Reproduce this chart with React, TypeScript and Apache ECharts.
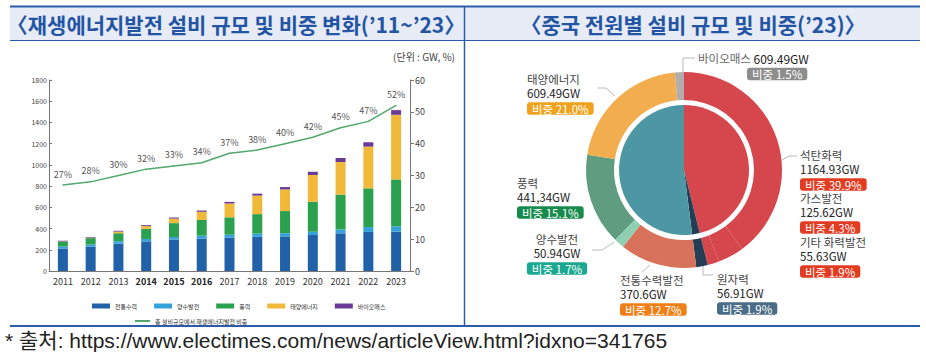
import React, { useEffect, useRef } from 'react';
import * as echarts from 'echarts';

// ---------- Data: left chart ----------
const years = ['2011', '2012', '2013', '2014', '2015', '2016', '2017', '2018', '2019', '2020', '2021', '2022', '2023'];
const boldYears = ['2014', '2015', '2016'];
const hydro = [212, 229, 258, 279, 297, 306, 313, 322, 326, 339, 355, 368, 371];
const pumped = [18, 20, 22, 23, 23, 27, 29, 30, 30, 31, 36, 46, 51];
const wind = [46, 61, 76, 96, 131, 148, 164, 184, 209, 282, 329, 365, 441];
const solar = [3, 3, 15, 25, 43, 77, 130, 175, 204, 253, 307, 393, 609];
const biomass = [5, 6, 8, 9, 10, 12, 15, 18, 22, 30, 38, 41, 44];
const reShare = [27, 28, 30, 32, 33, 34, 37, 38, 40, 42, 45, 47, 52];
const barNames = ['전통수력', '양수발전', '풍력', '태양에너지', '바이오매스'];
const lineName = '총 설비규모에서 재생에너지발전 비중';

// ---------- Data: right chart ----------
const mixNames = ['석탄화력', '가스발전', '기타 화력발전', '원자력', '전통수력발전', '양수발전', '풍력', '태양에너지', '바이오매스'];
const mixCapacity = ['1164.93GW', '125.62GW', '55.63GW', '56.91GW', '370.6GW', '50.94GW', '441,34GW', '609.49GW', '609.49GW'];
const mixShare = [39.9, 4.3, 1.9, 1.9, 12.7, 1.7, 15.1, 21.0, 1.5];
const groupNames = ['화력발전\n비중', '원자력비중', '재생에너지\n발전비중'];
const groupShare = [46.1, 1.9, 52.0];

// ---------- Text ----------
const titleLeft = '〈재생에너지발전 설비 규모 및 비중 변화(’11~’23〉';
const titleRight = '〈중국 전원별 설비 규모 및 비중(’23)〉';
const unitText = '(단위 : GW, %)';
const sourceText = '* 출처: https://www.electimes.com/news/articleView.html?idxno=341765';

// ---------- Styles / layout ----------
const FONT = "'Noto Sans CJK KR', 'Noto Sans', sans-serif";
const barColors = ['#2161a8', '#36a2dc', '#2ba150', '#f0b93a', '#6a3b94'];
const lineColor = '#52a86c';
const sliceColors = ['#d6464d', '#d6464d', '#d6464d', '#253d54', '#d9725b', '#8fcfb1', '#5f9c80', '#f2ae4e', '#b3acac'];
const groupColors = ['#d6464d', '#253d54', '#4d97a4'];
const badgeColors = ['#e23b22', '#e23b22', '#e23b22', '#4a6c86', '#f07f18', '#1ba890', '#178a4d', '#f0a21e', '#8d8d8d'];
const PIE_CENTER = [684, 170];
const LABEL_FS = 11.5;

type LabelPos = { x: number; y: number; align: string; inline?: boolean; badgeX?: number; line?: number[][] };
const labelLayout: LabelPos[] = [
  { x: 800, y: 155, align: 'left', line: [[782, 160], [789, 156], [797, 156]] },
  { x: 800, y: 198, align: 'left' },
  { x: 800, y: 242, align: 'left' },
  { x: 717, y: 279, align: 'left', line: [[703, 264], [703, 275], [713, 275]] },
  { x: 620, y: 280, align: 'left', line: [[650, 265], [642, 272]] },
  { x: 557, y: 239, align: 'center', line: [[614, 242], [602, 250], [592, 250]] },
  { x: 517, y: 183, align: 'left' },
  { x: 527, y: 79, align: 'left', line: [[615, 96], [606, 88], [598, 88]] },
  { x: 698, y: 58, align: 'left', inline: true, badgeX: 747, line: [[683, 72], [683, 58], [695, 58]] },
];
const groupLabelPos = [
  { x: 695, y: 158, size: 11.5, gap: 14 },
  { x: 678, y: 208, size: 9.5, gap: 14 },
  { x: 630, y: 158, size: 11.5, gap: 14 },
];

function txt(x: number, y: number, text: string, extra: any = {}) {
  const align = extra.align || 'left';
  return {
    type: 'text',
    x,
    y,
    silent: true,
    style: {
      text,
      fontFamily: FONT,
      fontSize: 12,
      fill: '#333',
      ...extra,
      align,
      textAlign: align,
      verticalAlign: 'middle',
      textVerticalAlign: 'middle',
    },
  };
}

function buildGraphics() {
  const g: any[] = [];
  // frame
  g.push({ type: 'rect', silent: true, shape: { x: 10, y: 7, width: 910, height: 33 }, style: { fill: '#e6ebf5' } });
  g.push({ type: 'line', silent: true, shape: { x1: 10, y1: 6.5, x2: 920, y2: 6.5 }, style: { stroke: '#2a5caa', lineWidth: 2 } });
  g.push({ type: 'line', silent: true, shape: { x1: 10, y1: 40.5, x2: 920, y2: 40.5 }, style: { stroke: '#2a5caa', lineWidth: 1 } });
  g.push({ type: 'line', silent: true, shape: { x1: 464.5, y1: 6, x2: 464.5, y2: 326 }, style: { stroke: '#2a5caa', lineWidth: 1.5 } });
  g.push({ type: 'line', silent: true, shape: { x1: 10, y1: 326, x2: 920, y2: 326 }, style: { stroke: '#2a5caa', lineWidth: 2 } });
  g.push(txt(236, 24, titleLeft, { align: 'center', fontSize: 21, fontWeight: 'bold', fill: '#2455a4' }));
  g.push(txt(693, 24, titleRight, { align: 'center', fontSize: 21, fontWeight: 'bold', fill: '#2455a4' }));
  g.push(txt(455, 56, unitText, { align: 'right', fontSize: 10, fill: '#444' }));
  g.push(txt(5, 340, sourceText, { fontSize: 21, fill: '#222', fontFamily: "'Liberation Sans', 'Noto Sans CJK KR', sans-serif" }));

  // outer ring labels
  mixNames.forEach((name, i) => {
    const p = labelLayout[i];
    if (p.line) {
      g.push({ type: 'polyline', silent: true, shape: { points: p.line }, style: { stroke: '#b8b8b8', lineWidth: 1, fill: 'none' } });
    }
    const badge = `비중 ${mixShare[i].toFixed(1)}%`;
    const badgeStyle = {
      fontSize: LABEL_FS,
      fill: '#fff',
      backgroundColor: badgeColors[i],
      padding: [1, 5, 0, 5],
      borderRadius: 3,
    };
    if (p.inline) {
      g.push(txt(p.x, p.y, `{n|${name}} {v|${mixCapacity[i]}}`, {
        fontSize: LABEL_FS,
        rich: {
          n: { fontSize: LABEL_FS, fill: '#666', fontFamily: FONT },
          v: { fontSize: 12, fill: '#222', fontFamily: FONT },
        },
      }));
      g.push(txt(p.badgeX as number, p.y + 16, badge, badgeStyle));
    } else {
      g.push(txt(p.x, p.y, name, { align: p.align, fontSize: LABEL_FS, fill: '#444' }));
      g.push(txt(p.x, p.y + 14, mixCapacity[i], { align: p.align, fontSize: LABEL_FS, fill: '#222' }));
      g.push(txt(p.x, p.y + 29.5, badge, { ...badgeStyle, align: p.align }));
    }
  });

  // inner pie labels
  groupNames.forEach((name, i) => {
    const p = groupLabelPos[i];
    const lines = [...name.split('\n'), `${groupShare[i].toFixed(1)}%`];
    lines.forEach((ln, k) => {
      g.push(txt(p.x, p.y + k * p.gap, ln, { fontSize: p.size, fill: '#fff' }));
    });
  });
  return g;
}

export default function App() {
  const ref = useRef<HTMLDivElement>(null);
  useEffect(() => {
    if (!ref.current) return;
    const chart = echarts.init(ref.current, undefined, { renderer: 'svg' });
    const barData = [hydro, pumped, wind, solar, biomass];
    const option: any = {
      animation: false,
      backgroundColor: '#ffffff',
      textStyle: { fontFamily: FONT },
      grid: { left: 49, right: 516, top: 80, bottom: 83, containLabel: false },
      legend: [
        {
          data: barNames,
          left: 92,
          top: 303,
          padding: 0,
          icon: 'rect',
          itemWidth: 18,
          itemHeight: 5,
          itemGap: 17,
          textStyle: { fontSize: 6, color: '#333', fontFamily: FONT },
          selectedMode: false,
        },
        {
          data: [lineName],
          left: 135,
          top: 318,
          padding: 0,
          icon: 'rect',
          itemWidth: 15,
          itemHeight: 2,
          textStyle: { fontSize: 6, color: '#333', fontFamily: FONT },
          selectedMode: false,
        },
      ],
      xAxis: {
        type: 'category',
        data: years,
        axisLine: { lineStyle: { color: '#777' } },
        axisTick: { inside: true, length: 3, lineStyle: { color: '#777' } },
        axisLabel: {
          interval: 0,
          fontSize: 9,
          color: '#333',
          margin: 6,
          formatter: (v: string) => (boldYears.includes(v) ? `{b|${v}}` : v),
          rich: { b: { fontSize: 9, fontWeight: 'bold', color: '#222' } },
        },
      },
      yAxis: [
        {
          type: 'value',
          min: 0,
          max: 1800,
          interval: 200,
          axisLine: { show: true, lineStyle: { color: '#777' } },
          axisTick: { show: true, inside: true, length: 3, lineStyle: { color: '#777' } },
          splitLine: { show: false },
          axisLabel: { fontSize: 7, color: '#444', margin: 2, formatter: (v: number) => String(v) },
        },
        {
          type: 'value',
          position: 'right',
          min: 0,
          max: 60,
          interval: 10,
          axisLine: { show: true, lineStyle: { color: '#777' } },
          axisTick: { show: true, length: 4, lineStyle: { color: '#777' } },
          splitLine: { show: false },
          axisLabel: { fontSize: 9, color: '#444', margin: 5 },
        },
      ],
      series: [
        ...barNames.map((name, i) => ({
          name,
          type: 'bar',
          stack: 'cap',
          barWidth: 10,
          data: barData[i],
          itemStyle: { color: barColors[i] },
          silent: true,
        })),
        {
          name: lineName,
          type: 'line',
          yAxisIndex: 1,
          data: reShare,
          symbol: 'circle',
          symbolSize: 1,
          showSymbol: true,
          lineStyle: { color: lineColor, width: 1.5 },
          itemStyle: { color: lineColor },
          label: { show: true, position: 'top', distance: 6, fontSize: 9, color: '#555', formatter: (p: any) => `${p.value}%` },
          silent: true,
        },
        {
          type: 'pie',
          center: PIE_CENTER,
          radius: [70, 98],
          startAngle: 90,
          clockwise: true,
          silent: true,
          label: { show: false },
          labelLine: { show: false },
          data: mixNames.map((name, i) => ({ name, value: mixShare[i], itemStyle: { color: sliceColors[i] } })),
        },
        {
          type: 'pie',
          center: PIE_CENTER,
          radius: [0, 65],
          startAngle: 90,
          clockwise: true,
          silent: true,
          label: { show: false },
          labelLine: { show: false },
          data: groupNames.map((name, i) => ({ name, value: groupShare[i], itemStyle: { color: groupColors[i] } })),
        },
      ],
      graphic: { elements: buildGraphics() },
    };
    chart.setOption(option);
    return () => chart.dispose();
  }, []);
  return <div ref={ref} style={{ position: 'fixed', left: 0, top: 0, width: 926, height: 354 }} />;
}
